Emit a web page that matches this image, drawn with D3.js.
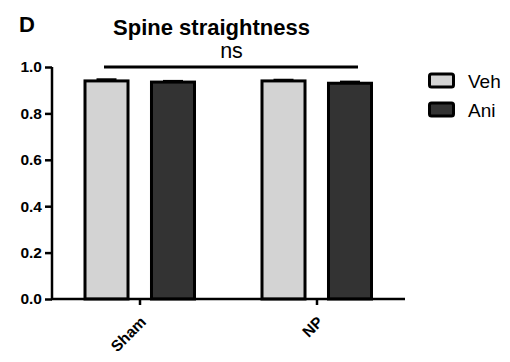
<!DOCTYPE html>
<html><head><meta charset="utf-8">
<script src="https://cdn.jsdelivr.net/npm/d3@7"></script>
<style>body{margin:0;background:#fff}svg{display:block}text{font-family:Arial,"Liberation Sans",sans-serif}</style>
</head><body><svg id="c" width="510" height="362"></svg>
<script>
const categories = ["Sham", "NP"];
const series = ["Veh", "Ani"];
const vehValues = [0.94, 0.94];
const aniValues = [0.935, 0.93];
const vehErrors = [0.006, 0.004];
const aniErrors = [0.004, 0.006];
const yTicks = [0.0, 0.2, 0.4, 0.6, 0.8, 1.0];
const colors = {Veh: "#d3d3d3", Ani: "#333333"};

const svg = d3.select("#c");
const y = d3.scaleLinear().domain([0, 1]).range([299, 67]);
const x0 = d3.scaleBand().domain(categories).range([51.5, 405.5]).padding(0);
const x1 = d3.scaleBand().domain(series).range([33.5, 143]).paddingInner(0.353).paddingOuter(0);

const rows = [];
categories.forEach((c, i) => {
  rows.push({cat: c, s: "Veh", v: vehValues[i], e: vehErrors[i]});
  rows.push({cat: c, s: "Ani", v: aniValues[i], e: aniErrors[i]});
});

// error bars (behind bars)
const eg = svg.append("g");
rows.forEach(d => {
  const cx = x0(d.cat) + x1(d.s) + x1.bandwidth() / 2;
  eg.append("line").attr("x1", cx).attr("x2", cx).attr("y1", y(d.v)).attr("y2", y(d.v + d.e))
    .attr("stroke", "#000").attr("stroke-width", 2.5);
  eg.append("line").attr("x1", cx - 10).attr("x2", cx + 10).attr("y1", y(d.v + d.e)).attr("y2", y(d.v + d.e))
    .attr("stroke", "#000").attr("stroke-width", 2.5);
});

svg.append("g").selectAll("rect").data(rows).join("rect")
  .attr("x", d => x0(d.cat) + x1(d.s))
  .attr("y", d => y(d.v))
  .attr("width", x1.bandwidth())
  .attr("height", d => y(0) - y(d.v))
  .attr("fill", d => colors[d.s])
  .attr("stroke", "#000").attr("stroke-width", 3);

// y axis
const ya = svg.append("g").attr("transform", "translate(52,0)")
  .call(d3.axisLeft(y).tickValues(yTicks).tickFormat(d3.format(".1f")).tickSize(7).tickPadding(3));
ya.select(".domain").attr("stroke-width", 2.5).attr("d", `M0,${y(1)}V${y(0)}`);
ya.selectAll(".tick line").attr("stroke-width", 2.5);
ya.selectAll(".tick text").attr("font-size", 15.5).attr("font-weight", "bold").attr("fill", "#000")
  .attr("font-family", "Arial, 'Liberation Sans', sans-serif");

// x axis
const xa = svg.append("g").attr("transform", `translate(0,${y(0)})`)
  .call(d3.axisBottom(x0).tickSize(6).tickSizeOuter(0));
xa.select(".domain").attr("stroke-width", 2.5).attr("d", `M51,0H405`);
xa.selectAll(".tick line").attr("stroke-width", 2.5);
xa.selectAll(".tick text").attr("font-size", 15.5).attr("font-weight", "bold").attr("fill", "#000")
  .attr("font-family", "Arial, 'Liberation Sans', sans-serif")
  .attr("text-anchor", "end").attr("dy", null).attr("y", 0)
  .attr("transform", "translate(7,24) rotate(-45)");

// significance
svg.append("line").attr("x1", 104).attr("x2", 358).attr("y1", 67).attr("y2", 67)
  .attr("stroke", "#000").attr("stroke-width", 3);
svg.append("text").attr("x", 231.5).attr("y", 58).attr("text-anchor", "middle")
  .attr("font-size", 21.5).text("ns");

// title
svg.append("text").attr("x", 211.5).attr("y", 34.5).attr("text-anchor", "middle")
  .attr("font-size", 22).attr("font-weight", "bold").text("Spine straightness");
svg.append("text").attr("x", 19).attr("y", 32).attr("font-size", 22).attr("font-weight", "bold").text("D");

// legend
const lg = svg.append("g");
series.forEach((s, i) => {
  const yy = 74 + i * 29;
  lg.append("rect").attr("x", 429.5).attr("y", yy).attr("width", 24).attr("height", 13)
    .attr("rx", 2).attr("fill", colors[s]).attr("stroke", "#000").attr("stroke-width", 3);
  lg.append("text").attr("x", 468).attr("y", yy + 13.5).attr("font-size", 19).text(s);
});
</script></body></html>
